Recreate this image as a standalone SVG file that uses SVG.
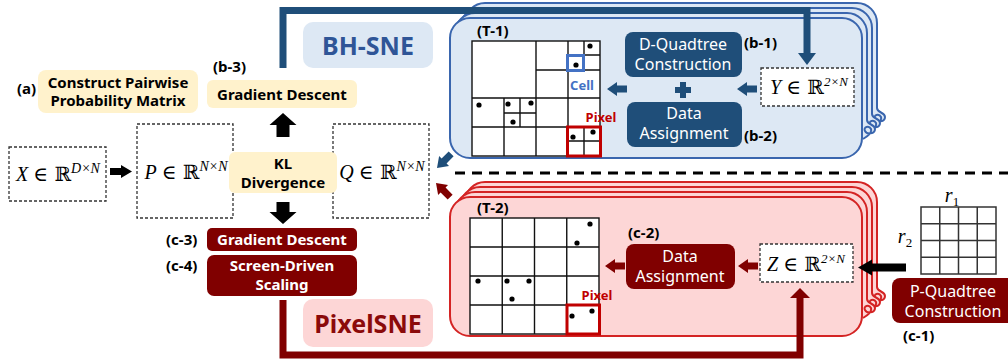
<svg xmlns="http://www.w3.org/2000/svg" width="1008" height="364" viewBox="0 0 1008 364">
<defs>
<style>
.s{font-family:"Noto Sans","Liberation Sans",sans-serif;}
.lb{font-family:"Noto Sans","Liberation Sans",sans-serif;font-weight:700;font-size:15px;fill:#000;}
.bt{font-family:"Noto Sans","Liberation Sans",sans-serif;font-weight:700;font-size:15px;fill:#000;text-anchor:middle;}
.wt{font-family:"Noto Sans","Liberation Sans",sans-serif;font-size:16px;fill:#fff;text-anchor:middle;}
.wb{font-family:"Noto Sans","Liberation Sans",sans-serif;font-weight:700;font-size:15px;fill:#fff;text-anchor:middle;}
.yel{fill:#fff2cc;}
.dash{fill:#fff;stroke:#333;stroke-width:1.3;stroke-dasharray:3 2;}
.dbl{fill:#1f4e79;}
.drd{fill:#800000;}
.math{font-family:"Liberation Serif","DejaVu Serif",serif;font-size:20px;fill:#000;text-anchor:middle;}
.bb{font-family:"DejaVu Serif","DejaVu Sans",serif;font-style:normal;}
.it{font-style:italic;}
.grid{fill:none;stroke:#111;stroke-width:1.4;}
.pan-b{fill:#dde8f4;stroke:#3a66ae;stroke-width:2;}
.pan-r{fill:#fdd6d6;stroke:#d42424;stroke-width:2;}
</style>
<path id="arr" d="M0,0 L-10,-7 L-10,-3.5 L-20,-3.5 L-20,3.5 L-10,3.5 L-10,7 Z"/>
</defs>

<!-- Blue panel (T-1) -->
<g id="panel-bh">
<path class="pan-b" d="M465,40 V23 A20,20 0 0 1 485,3 H857 A20,20 0 0 1 877,23 V108 c0,5 8,4 8,9 c0,5 -8,6 -10,2 c-2,-4 4,-6 6,-2 c1,3 -3,7 -8,10"/>
<path class="pan-b" d="M460,40 V28 A20,20 0 0 1 480,8 H852 A20,20 0 0 1 872,28 V114 c0,5 8,4 8,9 c0,5 -8,6 -10,2 c-2,-4 4,-6 6,-2 c1,3 -3,7 -8,10"/>
<path class="pan-b" d="M455,40 V33 A20,20 0 0 1 475,13 H847 A20,20 0 0 1 867,33 V120 c0,5 8,4 8,9 c0,5 -8,6 -10,2 c-2,-4 4,-6 6,-2 c1,3 -3,7 -8,10"/>
<rect class="pan-b" x="450" y="18" width="412" height="140" rx="20"/>
</g>

<!-- Red panel (T-2) -->
<g id="panel-px">
<path class="pan-r" d="M465,220 V202 A20,20 0 0 1 485,182 H857 A20,20 0 0 1 877,202 V287 c0,5 8,4 8,9 c0,5 -8,6 -10,2 c-2,-4 4,-6 6,-2 c1,3 -3,7 -8,10"/>
<path class="pan-r" d="M460,220 V207 A20,20 0 0 1 480,187 H852 A20,20 0 0 1 872,207 V293 c0,5 8,4 8,9 c0,5 -8,6 -10,2 c-2,-4 4,-6 6,-2 c1,3 -3,7 -8,10"/>
<path class="pan-r" d="M455,220 V212 A20,20 0 0 1 475,192 H847 A20,20 0 0 1 867,212 V299 c0,5 8,4 8,9 c0,5 -8,6 -10,2 c-2,-4 4,-6 6,-2 c1,3 -3,7 -8,10"/>
<rect class="pan-r" x="450" y="197" width="412" height="139" rx="20"/>
</g>

<!-- Separator -->
<line x1="455" y1="173" x2="1008" y2="173" stroke="#000" stroke-width="3" stroke-dasharray="10 7"/>

<!-- Labels -->
<g id="bhsne-label">
<rect x="303" y="22" width="130" height="46" rx="10" fill="#dde8f4"/>
<text class="s" x="368" y="55" font-size="25" font-weight="700" fill="#2f5597" text-anchor="middle">BH-SNE</text>
</g>
<g id="pixelsne-label">
<rect x="303" y="299" width="130" height="48" rx="10" fill="#fdd6d6"/>
<text class="s" x="368" y="333" font-size="25" font-weight="700" fill="#8b0a0a" text-anchor="middle">PixelSNE</text>
</g>

<g id="construct-a">
<text class="lb" x="17" y="94">(a)</text>
<rect class="yel" x="38" y="70" width="160" height="43" rx="8"/>
<text class="bt" x="118" y="88">Construct Pairwise</text>
<text class="bt" x="118" y="106">Probability Matrix</text>
</g>

<g id="gd-b3">
<text class="lb" x="213" y="72">(b-3)</text>
<rect class="yel" x="207" y="80" width="150" height="28" rx="6"/>
<text class="bt" x="282" y="100">Gradient Descent</text>
</g>

<g id="node-x">
<rect class="dash" x="9" y="147" width="97" height="54"/>
<text class="math" x="58" y="181"><tspan class="it">X</tspan> <tspan class="bb">∈ ℝ</tspan><tspan class="it" font-size="14" dy="-8">D×N</tspan></text>
</g>
<g id="node-p">
<rect class="dash" x="137" y="124" width="96" height="94"/>
<text class="math" x="186" y="179"><tspan class="it">P</tspan> <tspan class="bb">∈ ℝ</tspan><tspan class="it" font-size="14" dy="-8">N×N</tspan></text>
</g>
<g id="node-q">
<rect class="dash" x="333" y="124" width="96" height="94"/>
<text class="math" x="382" y="179"><tspan class="it">Q</tspan> <tspan class="bb">∈ ℝ</tspan><tspan class="it" font-size="14" dy="-8">N×N</tspan></text>
</g>
<g id="node-kl">
<rect class="yel" x="229" y="152" width="108" height="41" rx="6"/>
<text class="bt" x="283" y="169">KL</text>
<text class="bt" x="283" y="188">Divergence</text>
</g>

<g id="gd-c3">
<text class="lb" x="166" y="245">(c-3)</text>
<rect class="drd" x="207" y="228" width="150" height="23" rx="5"/>
<text class="wb" x="282" y="245">Gradient Descent</text>
</g>
<g id="scaling-c4">
<text class="lb" x="166" y="271">(c-4)</text>
<rect class="drd" x="207" y="255" width="150" height="41" rx="7"/>
<text class="wb" x="282" y="271">Screen-Driven</text>
<text class="wb" x="282" y="290">Scaling</text>
</g>

<!-- T-1 quadtree -->
<g id="tree-t1">
<text class="lb" x="477" y="36">(T-1)</text>
<rect x="472" y="41" width="128" height="115" fill="#fff" stroke="#111" stroke-width="1.4"/>
<path class="grid" d="M536,41 V156 M472,98 H600 M568,41 V98 M536,70 H600 M584,41 V70 M568,55 H600 M504,98 V156 M472,127 H536 M520,98 V127 M504,113 H536 M568,98 V156 M536,127 H600 M584,127 V156 M568,141 H600"/>
<g fill="#000">
<circle cx="590" cy="46" r="2.6"/><circle cx="576" cy="65" r="2.6"/>
<circle cx="479" cy="105" r="2.6"/><circle cx="508" cy="104" r="2.6"/><circle cx="531" cy="103" r="2.6"/><circle cx="513" cy="122" r="2.6"/>
<circle cx="573" cy="137" r="2.6"/><circle cx="593" cy="132" r="2.6"/>
</g>
<rect x="567.5" y="55.5" width="16" height="15" fill="none" stroke="#4472c4" stroke-width="3"/>
<rect x="567.5" y="127" width="33" height="29" fill="none" stroke="#c00000" stroke-width="3"/>
<text class="s" x="582" y="90" font-size="13" font-weight="700" fill="#4472c4" text-anchor="middle">Cell</text>
<text class="s" x="601" y="122" font-size="13" font-weight="700" fill="#c00000" text-anchor="middle">Pixel</text>
</g>

<g id="dquad-b1">
<rect class="dbl" x="625" y="32" width="117" height="45" rx="8"/>
<text class="wt" x="683" y="50">D-Quadtree</text>
<text class="wt" x="683" y="70">Construction</text>
<text class="lb" x="744" y="48">(b-1)</text>
</g>
<g id="plus">
<path d="M680,82 h6 v5 h5 v6 h-5 v5 h-6 v-5 h-5 v-6 h5 Z" fill="#1f4e79"/>
</g>
<g id="assign-b2">
<rect class="dbl" x="627" y="102" width="115" height="45" rx="8"/>
<text class="wt" x="684" y="119">Data</text>
<text class="wt" x="684" y="139">Assignment</text>
<text class="lb" x="744" y="141">(b-2)</text>
</g>
<g id="node-y">
<rect class="dash" x="761" y="68" width="93" height="38"/>
<text class="math" x="809" y="94" font-size="19"><tspan class="it">Y</tspan> <tspan class="bb">∈ ℝ</tspan><tspan class="it" font-size="13" dy="-8">2×N</tspan></text>
</g>

<!-- T-2 grid -->
<g id="tree-t2">
<text class="lb" x="477" y="213">(T-2)</text>
<rect x="470" y="218" width="129" height="116" fill="#fff" stroke="#111" stroke-width="1.4"/>
<path class="grid" d="M502.25,218 V334 M534.5,218 V334 M566.75,218 V334 M470,247 H599 M470,276 H599 M470,305 H599"/>
<g fill="#000">
<circle cx="590" cy="224" r="2.6"/><circle cx="577" cy="243" r="2.6"/>
<circle cx="478" cy="281" r="2.6"/><circle cx="507" cy="281" r="2.6"/><circle cx="529" cy="281" r="2.6"/><circle cx="512" cy="299" r="2.6"/>
<circle cx="572" cy="316" r="2.6"/><circle cx="592" cy="311" r="2.6"/>
</g>
<rect x="567" y="305" width="32.5" height="29" fill="none" stroke="#c00000" stroke-width="3"/>
<text class="s" x="597" y="300" font-size="13" font-weight="700" fill="#c00000" text-anchor="middle">Pixel</text>
</g>

<g id="assign-c2">
<text class="lb" x="628" y="238">(c-2)</text>
<rect class="drd" x="626" y="244" width="109" height="45" rx="8"/>
<text class="wt" x="680" y="262">Data</text>
<text class="wt" x="680" y="282">Assignment</text>
</g>
<g id="node-z">
<rect class="dash" x="760" y="244" width="93" height="38"/>
<text class="math" x="806" y="271" font-size="19"><tspan class="it">Z</tspan> <tspan class="bb">∈ ℝ</tspan><tspan class="it" font-size="13" dy="-8">2×N</tspan></text>
</g>

<g id="screen-grid">
<rect x="921" y="207" width="75" height="67" fill="#fff" stroke="#333" stroke-width="1.5"/>
<path d="M939.75,207 V274 M958.5,207 V274 M977.25,207 V274 M921,223.75 H996 M921,240.5 H996 M921,257.25 H996" fill="none" stroke="#333" stroke-width="1.5"/>
<text class="math" x="952" y="202" text-anchor="start"><tspan class="it">r</tspan><tspan font-size="13" dy="4">1</tspan></text>
<text class="math" x="905" y="243" text-anchor="start"><tspan class="it">r</tspan><tspan font-size="13" dy="4">2</tspan></text>
</g>
<g id="pquad-c1">
<rect class="drd" x="892" y="278" width="125" height="45" rx="8"/>
<text class="wt" x="953" y="297">P-Quadtree</text>
<text class="wt" x="953" y="317">Construction</text>
<text class="lb" x="903" y="341">(c-1)</text>
</g>

<!-- Connectors -->
<g id="connectors">
<polyline points="283,68 283,10.5 807,10.5 807,55" fill="none" stroke="#1f4e79" stroke-width="7"/>
<polygon points="798,53 816,53 807,65" fill="#1f4e79"/>
<polyline points="283,300 283,355 800,355 800,296" fill="none" stroke="#800000" stroke-width="7"/>
<polygon points="790,298 810,298 800,288" fill="#800000"/>
<polygon points="283,113 296.5,125 289.5,125 289.5,137 276.5,137 276.5,125 269.5,125" fill="#000"/>
<polygon points="283,224 296.5,212 289.5,212 289.5,202 276.5,202 276.5,212 269.5,212" fill="#000"/>
<polygon points="132,171.5 121,165 121,168 110,168 110,175 121,175 121,178" fill="#000"/>
<polygon points="858,267.5 872,259.5 872,263.5 906,263.5 906,271.5 872,271.5 872,275.5" fill="#000"/>
<use href="#arr" transform="translate(607,89) rotate(180)" fill="#1f4e79"/>
<use href="#arr" transform="translate(737,89) rotate(180)" fill="#1f4e79"/>
<use href="#arr" transform="translate(605,266) rotate(180)" fill="#800000"/>
<use href="#arr" transform="translate(738,266) rotate(180)" fill="#800000"/>
<use href="#arr" transform="translate(437,168) rotate(135)" fill="#1f4e79"/>
<use href="#arr" transform="translate(436,183) rotate(225)" fill="#800000"/>
</g>
</svg>
